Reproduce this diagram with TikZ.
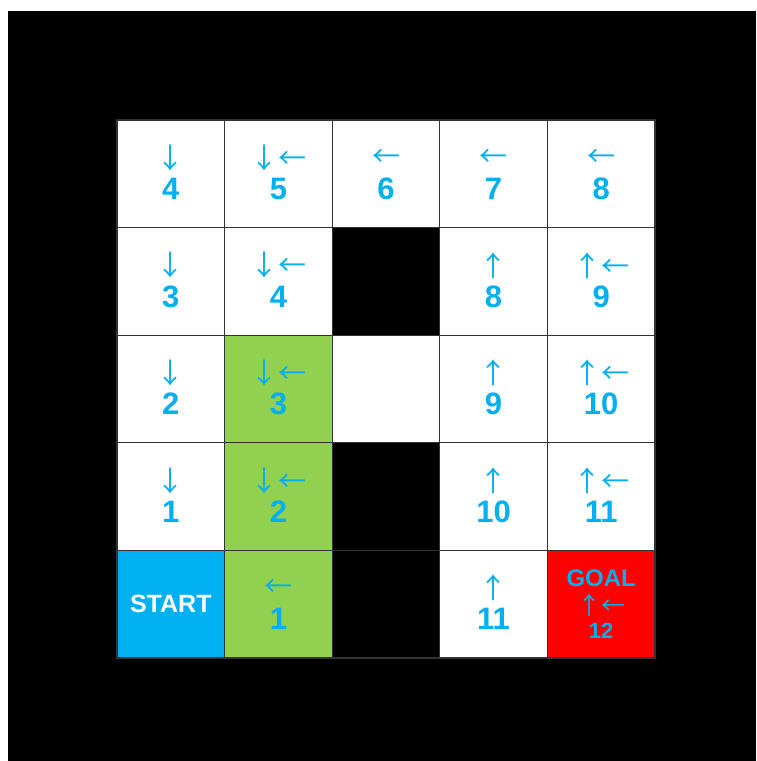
\documentclass[tikz,border=0pt]{standalone}
\usepackage{fontspec}
\setmainfont{Liberation Sans}
\newfontfamily\arrowfont{Noto Sans CJK JP}
\usepackage{tikz}
\usetikzlibrary{positioning}
\definecolor{gridcyan}{RGB}{0,176,240}
\definecolor{gridgreen}{RGB}{146,208,80}
\definecolor{gridred}{RGB}{255,0,0}

\begin{document}
\begin{tikzpicture}[x=0.5pt, y=-0.5pt,
    cell/.style={draw=black!80, line width=0.6pt, minimum size=53.8pt, inner sep=0pt},
    freecell/.style={cell, fill=white},
    routecell/.style={cell, fill=gridgreen},
    wallcell/.style={cell, fill=black},
    arrowtxt/.style={text=gridcyan, inner sep=0pt, font=\arrowfont\fontsize{14}{14}\selectfont},
    numtxt/.style={text=gridcyan, inner sep=0pt, font=\bfseries\fontsize{15.5}{15.5}\selectfont}
]
    \useasboundingbox (0,0) rectangle (756,761);
    % Black background
    \fill[black] (8,11) rectangle (756,761);

    % Cells with arrows and step counts
    \foreach \c/\r/\kind/\arr/\num in {
        0/0/freecell/↓/4, 1/0/freecell/↓←/5, 2/0/freecell/←/6, 3/0/freecell/←/7, 4/0/freecell/←/8,
        0/1/freecell/↓/3, 1/1/freecell/↓←/4, 3/1/freecell/↑/8, 4/1/freecell/↑←/9,
        0/2/freecell/↓/2, 1/2/routecell/↓←/3, 3/2/freecell/↑/9, 4/2/freecell/↑←/10,
        0/3/freecell/↓/1, 1/3/routecell/↓←/2, 3/3/freecell/↑/10, 4/3/freecell/↑←/11,
        1/4/routecell/←/1, 3/4/freecell/↑/11}
    {
        \node[\kind] (cell-\c-\r) at ({170.8+107.6*\c}, {173.8+107.6*\r}) {};
        \node[arrowtxt] (arr-\c-\r) at ([yshift=8pt]cell-\c-\r.center) {\arr};
        \node[numtxt] (num-\c-\r) at ([yshift=-7.5pt]cell-\c-\r.center) {\num};
    }

    % Walls and the empty cell
    \node[wallcell] (cell-2-1) at ({170.8+107.6*2}, {173.8+107.6*1}) {};
    \node[freecell] (cell-2-2) at ({170.8+107.6*2}, {173.8+107.6*2}) {};
    \node[wallcell] (cell-2-3) at ({170.8+107.6*2}, {173.8+107.6*3}) {};
    \node[wallcell] (cell-2-4) at ({170.8+107.6*2}, {173.8+107.6*4}) {};

    % Start
    \node[cell, fill=gridcyan, text=white, font=\bfseries\fontsize{12.5}{12.5}\selectfont]
        (cell-0-4) at ({170.8}, {173.8+107.6*4}) {START};

    % Goal
    \node[cell, fill=gridred] (cell-4-4) at ({170.8+107.6*4}, {173.8+107.6*4}) {};
    \node[numtxt, font=\bfseries\fontsize{12}{12}\selectfont] (goal-txt) at ([yshift=13pt]cell-4-4.center) {GOAL};
    \node[arrowtxt, font=\arrowfont\fontsize{12}{12}\selectfont] (arr-4-4) at ([yshift=-0.5pt]cell-4-4.center) {↑←};
    \node[numtxt, font=\bfseries\fontsize{11}{11}\selectfont] (num-4-4) at ([yshift=-13.5pt]cell-4-4.center) {12};
\end{tikzpicture}
\end{document}
